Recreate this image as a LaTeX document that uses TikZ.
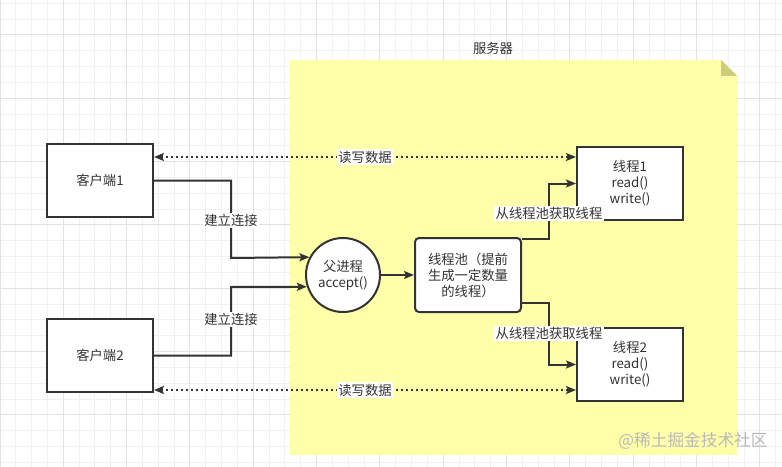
\documentclass[tikz,border=0pt]{standalone}
\usepackage{fontspec}
\setmainfont{Noto Sans CJK SC}
\usetikzlibrary{arrows.meta,positioning,calc}
\definecolor{notefill}{RGB}{255,255,170}
\definecolor{notefold}{RGB}{205,205,122}
\definecolor{ink}{RGB}{51,51,51}
\definecolor{gridminor}{RGB}{241,241,241}
\definecolor{gridmajor}{RGB}{226,226,226}

\begin{document}
\begin{tikzpicture}[x=0.75pt,y=-0.75pt,
  font=\fontsize{10}{12}\selectfont,text=ink,
  box/.style={draw=ink,line width=1.5pt,fill=white,align=center,inner sep=0pt,
    minimum width=79.5pt,minimum height=54.75pt},
  proc/.style={circle,draw=ink,line width=1.5pt,fill=white,align=center,inner sep=0pt,
    minimum size=55.5pt},
  pool/.style={box,rounded corners=3pt,minimum height=55.5pt},
  conn/.style={draw=ink,line width=1.5pt,-{Stealth[length=7.5pt,width=6pt,inset=1.5pt]}},
  rw/.style={draw=ink,line width=1.5pt,dash pattern=on 1.5pt off 2.25pt,
    {Stealth[length=7.5pt,width=6pt,inset=1.5pt]}-{Stealth[length=7.5pt,width=6pt,inset=1.5pt]}},
  lbl/.style={fill=white,inner sep=1pt}]

\useasboundingbox (0,0) rectangle (782,467);
\fill[white] (0,0) rectangle (782,467);

% grid
\begin{scope}[line width=0.75pt]
\clip (0,0) rectangle (782,467);
\foreach \i in {0,...,49}
  \draw[gridminor] (\i*15.833,0) -- (\i*15.833,467);
\foreach \j in {0,...,29}
  \draw[gridminor] (0,3.33+\j*15.833) -- (782,3.33+\j*15.833);
\foreach \i in {0,...,12}
  \draw[gridmajor] (\i*63.33,0) -- (\i*63.33,467);
\foreach \j in {0,...,6}
  \draw[gridmajor] (0,35+\j*63.33) -- (782,35+\j*63.33);
\end{scope}

% server note
\fill[notefill] (290,60) -- (721,60) -- (737,76) -- (737,455) -- (290,455) -- cycle;
\fill[notefold] (721,60) -- (721,76) -- (737,76) -- cycle;
\node (server) at (493,48) {服务器};

\node[box] (client1) at (100,180.5) {客户端1};
\node[box] (client2) at (100,355.5) {客户端2};
\node[proc] (father) at (343,275) {父进程\\accept()};
\node[pool] (threadpool) at (468,275) {线程池（提前\\生成一定数量\\的线程）};
\node[box] (thread1) at (630,183.5) {线程1\\read()\\write()};
\node[box] (thread2) at (630,364.5) {线程2\\read()\\write()};

\draw[conn] (client1.east) -| node[lbl,pos=0.76] {建立连接} (231,258) -- (father.152.6);
\draw[conn] (client2.east) -| node[lbl,pos=0.76] {建立连接} (231,287) -- (father.198.9);
\draw[conn] (father.east) -- (threadpool.west);
\draw[conn] ($(threadpool.north east)+(0,2)$) -| node[lbl,pos=0.73] {从线程池获取线程} (549,183.5) -- (thread1.west);
\draw[conn] ($(threadpool.south east)+(0,-10)$) -| node[lbl,pos=0.75] {从线程池获取线程} (549,364.5) -- (thread2.west);

\draw[rw] (client1.east |- 0,157) -- node[lbl] {读写数据} (thread1.west |- 0,157);
\draw[rw] (client2.east |- 0,390) -- node[lbl] {读写数据} (thread2.west |- 0,390);

\node[text=gray!55,font=\fontsize{12.5}{14}\selectfont] (mark) at (693,441) {@稀土掘金技术社区};

\end{tikzpicture}
\end{document}
